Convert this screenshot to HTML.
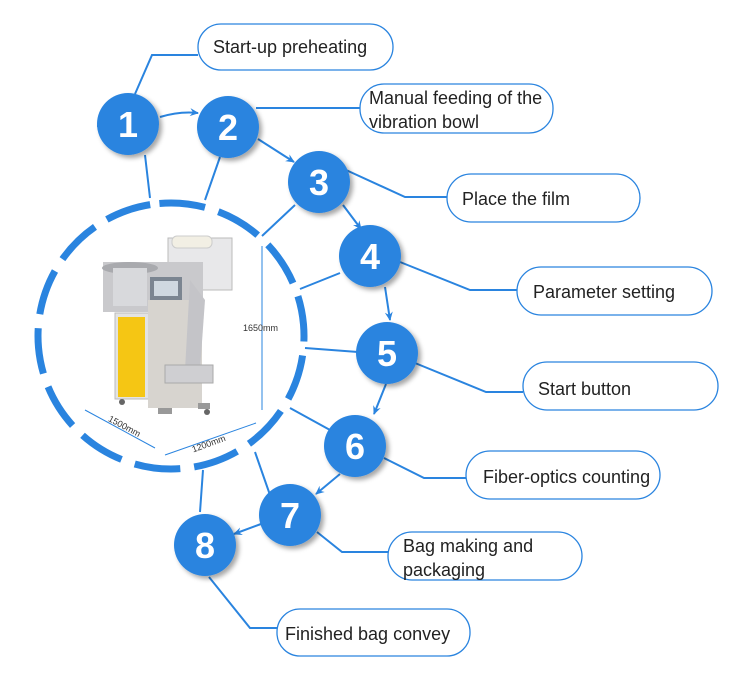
<!DOCTYPE html>
<html><head><meta charset="utf-8"><style>
html,body{margin:0;padding:0;background:#fff;}
svg{display:block;}
text{font-family:"Liberation Sans",Arial,sans-serif;}
.box{fill:#fff;stroke:#2a84df;stroke-width:1.3;}
.lbl{font-size:18px;fill:#222;}
.ln{stroke:#2a84df;stroke-width:2;fill:none;}
.num{font-size:36px;font-weight:bold;fill:#fff;text-anchor:middle;}
</style></head><body>
<svg width="750" height="675" viewBox="0 0 750 675" xmlns="http://www.w3.org/2000/svg">
<defs>
<marker id="ar" markerWidth="10" markerHeight="10" refX="8" refY="5" orient="auto" markerUnits="userSpaceOnUse">
<path d="M0,1 L9,5 L0,9 L3,5 Z" fill="#2a84df"/></marker>
<filter id="sh" x="-30%" y="-30%" width="170%" height="170%"><feDropShadow dx="3" dy="3" stdDeviation="2.5" flood-color="#000" flood-opacity="0.35"/></filter>
</defs>

<g>
<rect x="168" y="238" width="64" height="52" fill="#e8e8ea" stroke="#bbb"/>
<rect x="172" y="236" width="40" height="12" rx="5" fill="#f2efe4" stroke="#ccc"/>
<rect x="103" y="262" width="100" height="50" fill="#c9c9cc"/>
<ellipse cx="130" cy="268" rx="28" ry="6" fill="#a9aaae"/>
<rect x="113" y="268" width="34" height="38" fill="#d8d9dc"/>
<rect x="150" y="277" width="32" height="24" fill="#7b8591"/>
<rect x="154" y="281" width="24" height="15" fill="#cfd8e0"/>
<rect x="115" y="313" width="34" height="86" fill="#e3e3e3" stroke="#bbb"/>
<rect x="118" y="317" width="27" height="80" fill="#f5c614"/>
<rect x="148" y="300" width="54" height="108" fill="#d7d4cf"/>
<path d="M190 280 L205 300 L200 370 L185 370 Z" fill="#c4c4c8"/>
<rect x="165" y="365" width="48" height="18" fill="#cfcfd2" stroke="#aaa"/>
<rect x="158" y="408" width="14" height="6" fill="#999"/>
<rect x="198" y="403" width="12" height="6" fill="#999"/>
<circle cx="122" cy="402" r="3" fill="#666"/>
<circle cx="207" cy="412" r="3" fill="#666"/>
</g>
<line x1="262" y1="246" x2="262" y2="410" stroke="#2a84df" stroke-width="1"/>
<text x="243" y="331" font-size="9" fill="#333">1650mm</text>
<line x1="85" y1="410" x2="155" y2="448" stroke="#2a84df" stroke-width="1"/>
<text x="105" y="425" font-size="9" fill="#333" transform="rotate(28 115 428)">1500mm</text>
<line x1="165" y1="455" x2="256" y2="423" stroke="#2a84df" stroke-width="1"/>
<text x="190" y="446" font-size="9" fill="#333" transform="rotate(-20 210 440)">1200mm</text>

<circle cx="171" cy="336" r="133" fill="none" stroke="#2a84df" stroke-width="7" stroke-dasharray="46 14" transform="rotate(-95 171 336)"/>

<path class="ln" d="M145 155 L150 198 M220 157 L205 200 M295 205 L262 236 M340 273 L300 289 M358 352 L305 348 M330 430 L290 408 M270 495 L255 452 M200 512 L203 470 M97 126 L100 126"/>

<path class="ln" d="M135 94 L152 55 L198 55"/>
<path class="ln" d="M256 108 L360 108"/>
<path class="ln" d="M346 170 L405 197 L447 197"/>
<path class="ln" d="M400 262 L470 290 L517 290"/>
<path class="ln" d="M415 363 L486 392 L523 392"/>
<path class="ln" d="M384 458 L424 478 L466 478"/>
<path class="ln" d="M317 532 L342 552 L388 552"/>
<path class="ln" d="M209 577 L250 628 L277 628"/>

<path class="ln" d="M160 117 Q180 111 198 113" marker-end="url(#ar)"/>
<path class="ln" d="M258 139 L294 162" marker-end="url(#ar)"/>
<path class="ln" d="M343 205 L361 229" marker-end="url(#ar)"/>
<path class="ln" d="M385 287 L390 320" marker-end="url(#ar)"/>
<path class="ln" d="M386 384 L374 414" marker-end="url(#ar)"/>
<path class="ln" d="M340 474 L316 494" marker-end="url(#ar)"/>
<path class="ln" d="M261 524 L234 534" marker-end="url(#ar)"/>

<g filter="url(#sh)" fill="#2a84df">
<circle cx="128" cy="124" r="31"/><circle cx="228" cy="127" r="31"/>
<circle cx="319" cy="182" r="31"/><circle cx="370" cy="256" r="31"/>
<circle cx="387" cy="353" r="31"/><circle cx="355" cy="446" r="31"/>
<circle cx="290" cy="515" r="31"/><circle cx="205" cy="545" r="31"/>
</g>
<text class="num" x="128" y="137">1</text><text class="num" x="228" y="140">2</text>
<text class="num" x="319" y="195">3</text><text class="num" x="370" y="269">4</text>
<text class="num" x="387" y="366">5</text><text class="num" x="355" y="459">6</text>
<text class="num" x="290" y="528">7</text><text class="num" x="205" y="558">8</text>

<rect class="box" x="198" y="24" width="195" height="46" rx="23"/>
<text class="lbl" x="213" y="53">Start-up preheating</text>
<rect class="box" x="360" y="84" width="193" height="49" rx="24"/>
<text class="lbl" x="369" y="104">Manual feeding of the</text>
<text class="lbl" x="369" y="128">vibration bowl</text>
<rect class="box" x="447" y="174" width="193" height="48" rx="24"/>
<text class="lbl" x="462" y="205">Place the film</text>
<rect class="box" x="517" y="267" width="195" height="48" rx="24"/>
<text class="lbl" x="533" y="298">Parameter setting</text>
<rect class="box" x="523" y="362" width="195" height="48" rx="24"/>
<text class="lbl" x="538" y="395">Start button</text>
<rect class="box" x="466" y="451" width="194" height="48" rx="24"/>
<text class="lbl" x="483" y="483">Fiber-optics counting</text>
<rect class="box" x="388" y="532" width="194" height="48" rx="24"/>
<text class="lbl" x="403" y="552">Bag making and</text>
<text class="lbl" x="403" y="576">packaging</text>
<rect class="box" x="277" y="609" width="193" height="47" rx="23"/>
<text class="lbl" x="285" y="640">Finished bag convey</text>
</svg>
</body></html>
